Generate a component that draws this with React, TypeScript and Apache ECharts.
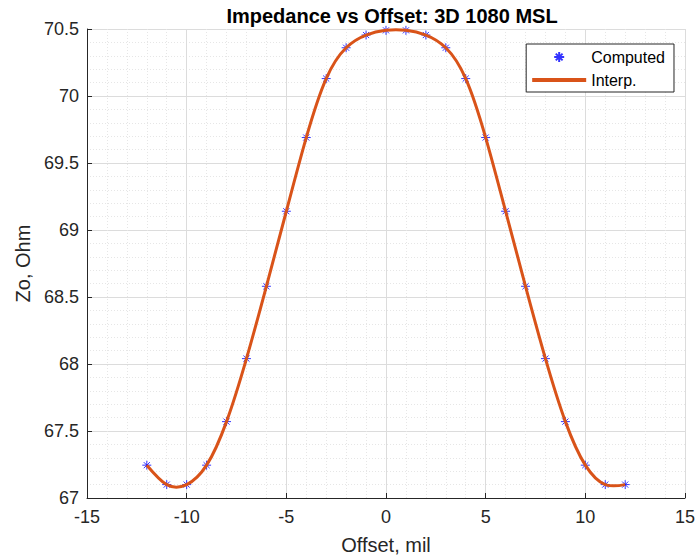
import React, { useEffect, useRef } from "react";
import * as echarts from "echarts";

const offsets = [-12, -11, -10, -9, -8, -7, -6, -5, -4, -3, -2, -1, 0, 1, 2, 3, 4, 5, 6, 7, 8, 9, 10, 11, 12];
const zo = [67.245, 67.1, 67.1, 67.245, 67.57, 68.04, 68.58, 69.14, 69.69, 70.13, 70.36, 70.455, 70.49,
  70.49, 70.455, 70.36, 70.13, 69.69, 69.14, 68.58, 68.04, 67.57, 67.245, 67.1, 67.1];

const titleText = "Impedance vs Offset: 3D 1080 MSL";
const xName = "Offset, mil";
const yName = "Zo, Ohm";
const seriesNames = ["Computed", "Interp."];

const FONT = "'Liberation Sans', Arial, Helvetica, sans-serif";
const AST = "path://M0,5L10,5M5,0L5,10M1.6,1.6L8.4,8.4M8.4,1.6L1.6,8.4";
const AST_LEG = "path://M-2,-2M12,12M0,5L10,5M5,0L5,10M1.6,1.6L8.4,8.4M8.4,1.6L1.6,8.4";
const LINE_LEG = "path://M0,0L54,0L54,4L0,4Z";

// Natural cubic spline second derivatives (drawing helper for the smooth curve through the data)
function splineM(xs: number[], ys: number[]): number[] {
  const n = xs.length;
  const M = new Array(n).fill(0);
  if (n < 3) return M;
  const a: number[] = [], b: number[] = [], c: number[] = [], d: number[] = [];
  for (let i = 1; i < n - 1; i++) {
    const h0 = xs[i] - xs[i - 1];
    const h1 = xs[i + 1] - xs[i];
    a.push(h0);
    b.push(2 * (h0 + h1));
    c.push(h1);
    d.push(6 * ((ys[i + 1] - ys[i]) / h1 - (ys[i] - ys[i - 1]) / h0));
  }
  const m = b.length;
  for (let i = 1; i < m; i++) {
    const w = a[i] / b[i - 1];
    b[i] -= w * c[i - 1];
    d[i] -= w * d[i - 1];
  }
  const sol = new Array(m).fill(0);
  sol[m - 1] = d[m - 1] / b[m - 1];
  for (let i = m - 2; i >= 0; i--) sol[i] = (d[i] - c[i] * sol[i + 1]) / b[i];
  for (let i = 0; i < m; i++) M[i + 1] = sol[i];
  return M;
}

export default function App() {
  const ref = useRef<HTMLDivElement>(null);
  useEffect(() => {
    if (!ref.current) return;
    const chart = echarts.init(ref.current, undefined, { renderer: "svg" });
    const pts = offsets.map((x, i) => [x, zo[i]]);
    const M = splineM(offsets, zo);
    const axisText = { color: "#262626", fontSize: 18, fontFamily: FONT };
    chart.setOption({
      animation: false,
      backgroundColor: "#ffffff",
      title: {
        text: titleText,
        left: 387,
        textAlign: "center",
        top: 1,
        textStyle: { fontSize: 20, fontWeight: "bold", color: "#000", fontFamily: FONT },
      },
      grid: { left: 87, right: 12, top: 29, bottom: 59, containLabel: false },
      legend: {
        orient: "vertical",
        right: 24,
        top: 44,
        padding: [5, 9, 4, 6],
        itemGap: 7,
        itemWidth: 54,
        itemHeight: 14,
        itemTextGap: 5,
        backgroundColor: "#fff",
        borderColor: "#262626",
        borderWidth: 1,
        borderRadius: 0,
        textStyle: { fontSize: 16, color: "#000", fontFamily: FONT },
        data: [
          { name: seriesNames[0], icon: AST_LEG },
          { name: seriesNames[1], icon: LINE_LEG, itemStyle: { color: "#d95319", borderWidth: 0 } },
        ],
      },
      xAxis: {
        type: "value",
        min: -15,
        max: 15,
        interval: 5,
        name: xName,
        nameLocation: "middle",
        nameGap: 37,
        nameTextStyle: { ...axisText, fontSize: 20 },
        axisLine: { show: true, onZero: false, lineStyle: { color: "#262626", width: 1 } },
        axisTick: { show: true, inside: true, length: 5, lineStyle: { color: "#262626" } },
        axisLabel: { ...axisText, margin: 10 },
        splitLine: { show: true, lineStyle: { color: "#dcdcdc", width: 1 } },
        minorTick: { show: false, splitNumber: 5 },
        minorSplitLine: { show: true, lineStyle: { color: "#e6e6e6", type: [1, 2], width: 1 } },
      },
      yAxis: {
        type: "value",
        min: 67,
        max: 70.5,
        interval: 0.5,
        name: yName,
        nameLocation: "middle",
        nameGap: 43,
        nameTextStyle: { ...axisText, fontSize: 20 },
        axisLine: { show: true, onZero: false, lineStyle: { color: "#262626", width: 1 } },
        axisTick: { show: true, inside: true, length: 5, lineStyle: { color: "#262626" } },
        axisLabel: { ...axisText, margin: 8 },
        splitLine: { show: true, lineStyle: { color: "#dcdcdc", width: 1 } },
        minorTick: { show: false, splitNumber: 5 },
        minorSplitLine: { show: true, lineStyle: { color: "#e6e6e6", type: [1, 2], width: 1 } },
      },
      series: [
        {
          name: seriesNames[0],
          type: "scatter",
          data: pts,
          symbol: AST,
          symbolSize: 9,
          symbolKeepAspect: true,
          itemStyle: { color: "rgba(0,0,0,0)", borderColor: "#0000ff", borderWidth: 1 },
          z: 2,
        },
        {
          name: seriesNames[1],
          type: "custom",
          coordinateSystem: "cartesian2d",
          data: pts,
          encode: { x: 0, y: 1 },
          itemStyle: { color: "#d95319" },
          z: 3,
          renderItem: (params: any, api: any) => {
            if (params.dataIndex !== 0) return null;
            const n = offsets.length;
            let d = "";
            const p0 = api.coord([offsets[0], zo[0]]);
            d += `M${p0[0]},${p0[1]}`;
            for (let i = 0; i < n - 1; i++) {
              const x0 = offsets[i], x1 = offsets[i + 1];
              const y0 = zo[i], y1 = zo[i + 1];
              const h = x1 - x0;
              const s = (y1 - y0) / h;
              const d0 = s - (h * (2 * M[i] + M[i + 1])) / 6;
              const d1 = s + (h * (M[i] + 2 * M[i + 1])) / 6;
              const c1 = api.coord([x0 + h / 3, y0 + (d0 * h) / 3]);
              const c2 = api.coord([x1 - h / 3, y1 - (d1 * h) / 3]);
              const e = api.coord([x1, y1]);
              d += `C${c1[0]},${c1[1]},${c2[0]},${c2[1]},${e[0]},${e[1]}`;
            }
            return {
              type: "path",
              shape: { pathData: d },
              style: { fill: "none", stroke: "#d95319", lineWidth: 3, lineJoin: "round" },
            };
          },
        },
      ],
    });
    return () => chart.dispose();
  }, []);
  return <div ref={ref} style={{ width: 698, height: 560, position: "absolute", left: 0, top: 0 }} />;
}
